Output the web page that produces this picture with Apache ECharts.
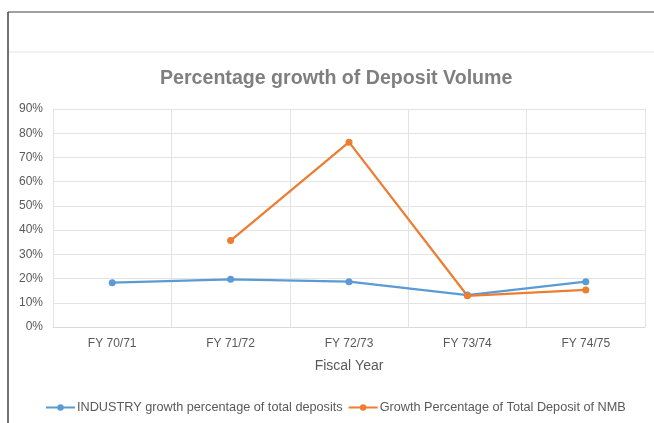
<!DOCTYPE html>
<html>
<head>
<meta charset="utf-8">
<script src="https://cdn.jsdelivr.net/npm/echarts@6/dist/echarts.min.js"></script>
<style>
  html, body { margin: 0; padding: 0; background: #fff; }
  #chart { width: 654px; height: 423px; }
</style>
</head>
<body>
<div id="chart"></div>
<script>
// data
const years = ['FY 70/71', 'FY 71/72', 'FY 72/73', 'FY 73/74', 'FY 74/75'];
const industry = [18.3, 19.7, 18.7, 13.2, 18.7];
const nmb = [null, 35.7, 76.3, 12.9, 15.3];
const industryName = 'INDUSTRY growth percentage of total deposits';
const nmbName = 'Growth Percentage of Total Deposit of NMB';

const chart = echarts.init(document.getElementById('chart'));
const font = 'Arial, "Liberation Sans", sans-serif';

chart.setOption({
  backgroundColor: '#fff',
  textStyle: { fontFamily: font },
  color: ['#5b9bd5', '#ed7d31'],
  title: {
    text: 'Percentage growth of Deposit Volume',
    left: 155,
    top: 64,
    textStyle: { fontSize: 19.6, fontWeight: 'bold', color: '#7f7f7f', fontFamily: font }
  },
  // frame lines round the chart box
  graphic: [
    { type: 'line', shape: { x1: 8, y1: 12, x2: 654, y2: 12 }, style: { stroke: '#404040', lineWidth: 1 } },
    { type: 'line', shape: { x1: 8, y1: 12, x2: 8, y2: 423 }, style: { stroke: '#404040', lineWidth: 1.5 } },
    { type: 'line', shape: { x1: 9, y1: 52, x2: 654, y2: 52 }, style: { stroke: '#e6e6e6', lineWidth: 1 } }
  ],
  legend: {
    bottom: 4,
    left: 40,
    itemWidth: 29,
    itemHeight: 8,
    itemGap: 5,
    textStyle: { fontSize: 12.7, color: '#595959', fontFamily: font, padding: [0, 0, 0, -3] },
    data: [industryName, nmbName]
  },
  grid: { left: 53, right: 9, top: 109, bottom: 96 },
  xAxis: {
    type: 'category',
    data: years,
    name: 'Fiscal Year',
    nameLocation: 'middle',
    nameGap: 32,
    nameTextStyle: { fontSize: 14, color: '#595959' },
    axisTick: { show: false },
    axisLine: { lineStyle: { color: '#d9d9d9' } },
    axisLabel: { fontSize: 12, color: '#595959', margin: 11 },
    splitLine: { show: true, lineStyle: { color: '#e3e3e3' } }
  },
  yAxis: {
    type: 'value',
    min: 0,
    max: 90,
    interval: 10,
    axisLine: { show: false },
    axisTick: { show: false },
    axisLabel: { formatter: '{value}%', fontSize: 12, color: '#595959', margin: 10 },
    splitLine: { lineStyle: { color: '#e3e3e3' } }
  },
  series: [
    {
      name: industryName,
      type: 'line',
      data: industry,
      symbol: 'circle',
      symbolSize: 7,
      lineStyle: { width: 2.25 }
    },
    {
      name: nmbName,
      type: 'line',
      data: nmb,
      symbol: 'circle',
      symbolSize: 7,
      lineStyle: { width: 2.25 }
    }
  ]
});
</script>
</body>
</html>
